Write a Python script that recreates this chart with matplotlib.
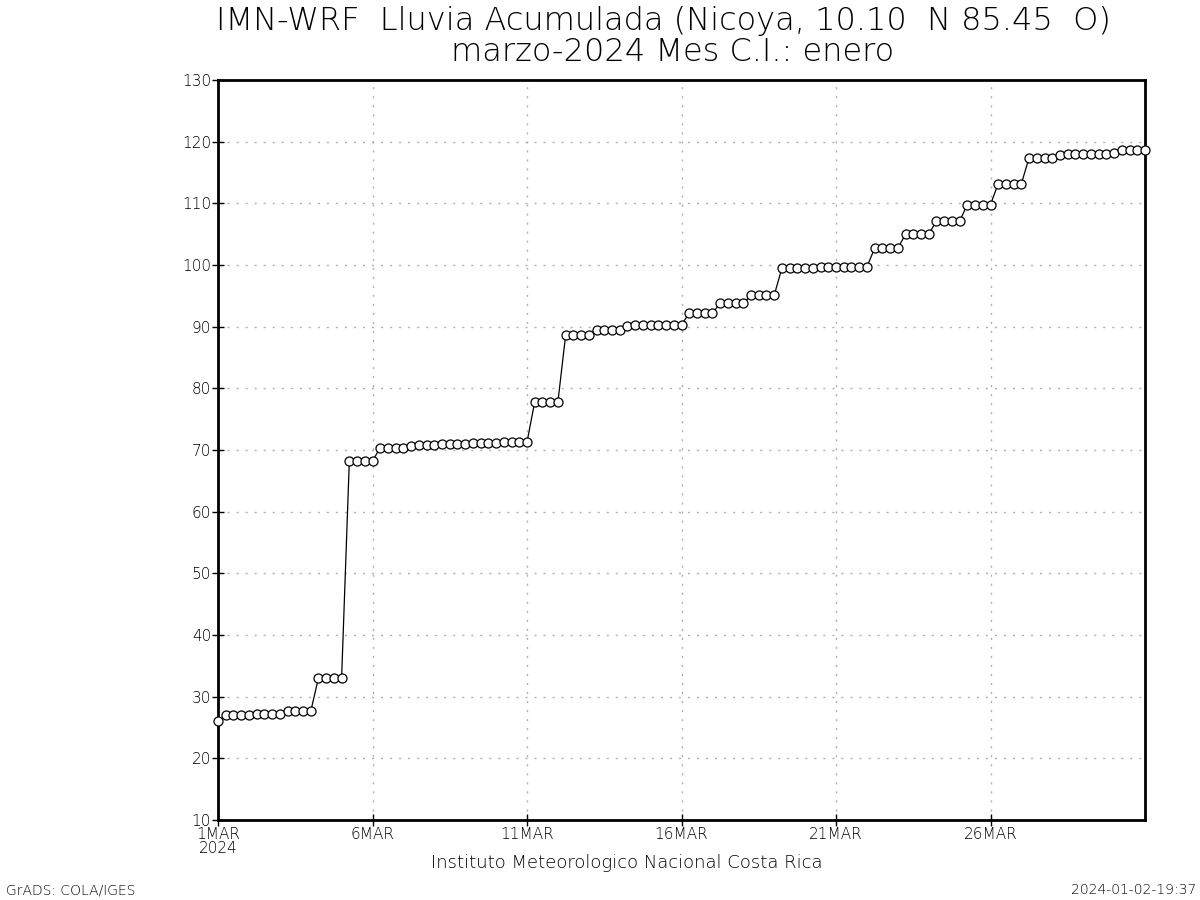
import numpy as np
import matplotlib
matplotlib.use("Agg")
from matplotlib import pyplot as plt

plt.rcParams['font.family'] = ['DejaVu Sans']
plt.rcParams['font.weight'] = 'light'

# accumulated rain (mm), one value every 6 h from 1MAR 00Z to 31MAR 00Z
rain = [26.0,
        27.0, 27.0, 27.0, 27.1, 27.2, 27.2, 27.2, 27.2,
        27.6, 27.6, 27.6, 27.6,
        33.0, 33.0, 33.0, 33.0,
        68.2, 68.2, 68.2, 68.2,
        70.4, 70.4, 70.4, 70.4,
        70.7, 70.8, 70.8, 70.8, 70.9, 70.9, 70.9, 71.0,
        71.2, 71.2, 71.2, 71.2, 71.3, 71.3, 71.3, 71.3,
        77.8, 77.8, 77.8, 77.8,
        88.6, 88.6, 88.6, 88.6,
        89.4, 89.4, 89.4, 89.4,
        90.1, 90.2, 90.2, 90.2, 90.3, 90.3, 90.3, 90.3,
        92.2, 92.2, 92.2, 92.2,
        93.8, 93.8, 93.8, 93.8,
        95.1, 95.1, 95.1, 95.1,
        99.5, 99.5, 99.5, 99.5, 99.5, 99.6, 99.6, 99.6, 99.7, 99.7, 99.7, 99.7,
        102.7, 102.7, 102.7, 102.7,
        105.0, 105.0, 105.0, 105.0,
        107.1, 107.1, 107.1, 107.1,
        109.8, 109.8, 109.8, 109.8,
        113.2, 113.2, 113.2, 113.2,
        117.4, 117.4, 117.4, 117.4,
        117.9, 118.0, 118.0, 118.0, 118.0, 118.0, 118.0, 118.1,
        118.6, 118.6, 118.6, 118.6]
days = np.arange(len(rain)) * 0.25  # days since 1MAR

xtick_days = [0, 5, 10, 15, 20, 25]
xtick_labels = ["1MAR\n2024", "6MAR", "11MAR", "16MAR", "21MAR", "26MAR"]
yticks = list(range(10, 131, 10))

fig = plt.figure(figsize=(12, 9), dpi=100)
ax = fig.add_axes([218 / 1200, 1 - 820 / 900, 927 / 1200, 740 / 900])

ax.plot(days, rain, color="black", linewidth=0.9, marker="o", markersize=6.5,
        markerfacecolor="white", markeredgecolor="black", markeredgewidth=0.9,
        clip_on=False, zorder=3)

ax.set_xlim(0, 30)
ax.set_ylim(10, 130)
ax.set_xticks(xtick_days)
ax.set_xticklabels(xtick_labels, fontsize=11, linespacing=0.9)
ax.set_yticks(yticks)
ax.set_yticklabels([str(v) for v in yticks], fontsize=11)
ax.tick_params(axis="both", direction="inout", length=8, width=1, pad=1)
ax.grid(True, color="#b0b0b0", linestyle=(0, (1.5, 5)), linewidth=1)

for sp in ax.spines.values():
    sp.set_linewidth(2)

fig.text(663 / 1200, 1 - 21 / 900, "IMN-WRF  Lluvia Acumulada (Nicoya, 10.10  N 85.45  O)",
         ha="center", va="center", fontsize=23)
fig.text(673 / 1200, 1 - 52 / 900, "marzo-2024 Mes C.I.: enero",
         ha="center", va="center", fontsize=23)
fig.text(627 / 1200, 1 - 863 / 900, "Instituto Meteorologico Nacional Costa Rica",
         ha="center", va="center", fontsize=13)
fig.text(6 / 1200, 1 - 890 / 900, "GrADS: COLA/IGES", ha="left", va="center", fontsize=10)
fig.text(1196 / 1200, 1 - 890 / 900, "2024-01-02-19:37", ha="right", va="center", fontsize=10)

fig.savefig("out.png", dpi=100)
